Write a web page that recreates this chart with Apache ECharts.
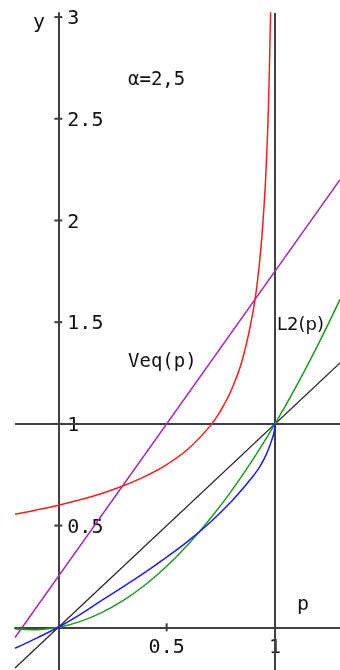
<!DOCTYPE html>
<html><head><meta charset="utf-8">
<script src="https://cdn.jsdelivr.net/npm/echarts@6/dist/echarts.min.js"></script>
<style>html,body{margin:0;padding:0;background:#fff}#c{width:340px;height:670px}</style>
</head><body><div id="c"></div>
<script>
// Axis ranges and tick values
const xRange = [-0.2, 1.3];
const yRange = [-0.21, 3.02];
const xTicks = [0.5, 1];
const xTickLabels = ['0.5', '1'];
const yTicks = [0.5, 1, 1.5, 2, 2.5, 3];
const yTickLabels = ['0.5', '1', '1.5', '2', '2.5', '3'];

// Red curve (rises to a vertical asymptote just before p = 1)
const pRed = [-0.2, -0.1, 0, 0.1, 0.2, 0.3, 0.4, 0.5, 0.6, 0.7, 0.75, 0.8, 0.85, 0.9, 0.93, 0.95, 0.96, 0.97, 0.98];
const yRed = [0.556, 0.577, 0.6, 0.627, 0.658, 0.696, 0.742, 0.8, 0.878, 0.989, 1.067, 1.17, 1.318, 1.56, 1.809, 2.08, 2.28, 2.57, 3.04];

// Veq(p), straight line
const pVeq = [-0.2, 1.3];
const yVeq = [-0.05, 2.2];

// L2(p), green
const pL2 = [-0.2, -0.1, 0, 0.1, 0.2, 0.3, 0.4, 0.5, 0.6, 0.7, 0.8, 0.9, 1.0, 1.1, 1.2, 1.3];
const yL2 = [-0.008, -0.012, 0, 0.028, 0.072, 0.132, 0.208, 0.3, 0.408, 0.532, 0.672, 0.828, 1.0, 1.188, 1.392, 1.612];

// Blue curve, ends at (1, 1)
const pBlue = [-0.2, -0.1, 0, 0.1, 0.2, 0.3, 0.4, 0.5, 0.6, 0.7, 0.8, 0.85, 0.9, 0.93, 0.96, 0.98, 0.995, 1.0];
const yBlue = [-0.103, -0.053, 0, 0.062, 0.132, 0.2, 0.27, 0.345, 0.425, 0.515, 0.62, 0.68, 0.745, 0.79, 0.85, 0.905, 0.955, 1.0];

// Diagonal y = p and the reference lines y = 1, p = 1
const pDiag = [-0.2, 1.3];
const yDiag = [-0.2, 1.3];
const hLine = [[-0.2, 1], [1.3, 1]];
const vLine = [[1, -0.21], [1, 3.02]];

const zip = (a, b) => a.map((v, i) => [v, b[i]]);
const TXT = '#15110e';
const MONO = '"DejaVu Sans Mono", monospace';
const AX = '#404040';

const chart = echarts.init(document.getElementById('c'), null, {renderer: 'canvas'});

function curve(data, color, width, smooth) {
  return {
    type: 'line', data, symbol: 'none', smooth: smooth ? 0.4 : false,
    clip: true, silent: true,
    lineStyle: {color, width}
  };
}

chart.setOption({
  animation: false,
  grid: {left: 15, top: 13, width: 327, height: 657, containLabel: false},
  xAxis: {
    type: 'value', min: xRange[0], max: xRange[1],
    axisLine: {show: true, onZero: true, lineStyle: {color: AX, width: 2}},
    axisTick: {show: false}, axisLabel: {show: false}, splitLine: {show: false}
  },
  yAxis: {
    type: 'value', min: yRange[0], max: yRange[1],
    axisLine: {show: true, onZero: true, lineStyle: {color: AX, width: 2}},
    axisTick: {show: false}, axisLabel: {show: false}, splitLine: {show: false}
  },
  series: [
    curve(hLine, AX, 2, false),
    curve(vLine, AX, 2, false),
    curve(zip(pDiag, yDiag), '#222', 1.2, false),
    curve(zip(pVeq, yVeq), '#a030b0', 1.5, false),
    curve(zip(pL2, yL2), '#1f9a1f', 1.5, true),
    curve(zip(pBlue, yBlue), '#1c1cff', 1.5, true),
    curve(zip(pRed, yRed), '#ff1c1c', 1.5, true),
    {
      // tick crosses and labels on the y axis
      type: 'custom', silent: true, data: yTicks.map((v, i) => [v, i]),
      renderItem: (params, api) => {
        const pt = api.coord([0, api.value(0)]);
        const lbl = yTickLabels[api.value(1)];
        return {type: 'group', children: [
          {type: 'line', shape: {x1: pt[0] - 4, y1: pt[1], x2: pt[0] + 4, y2: pt[1]}, style: {stroke: AX, lineWidth: 2}},
          {type: 'text', style: {text: lbl, x: pt[0] + 9, y: pt[1] + 2, font: '20px ' + MONO, fill: TXT, align: 'left', verticalAlign: 'middle'}}
        ]};
      }
    },
    {
      // tick marks and labels on the p axis
      type: 'custom', silent: true, data: xTicks.map((v, i) => [v, i]),
      renderItem: (params, api) => {
        const pt = api.coord([api.value(0), 0]);
        const lbl = xTickLabels[api.value(1)];
        return {type: 'group', children: [
          {type: 'line', shape: {x1: pt[0], y1: pt[1] - 4, x2: pt[0], y2: pt[1] + 4}, style: {stroke: AX, lineWidth: 2}},
          {type: 'text', style: {text: lbl, x: pt[0], y: pt[1] + 21, font: '20px ' + MONO, fill: TXT, align: 'center', verticalAlign: 'middle'}}
        ]};
      }
    }
  ],
  graphic: [
    {type: 'text', left: 33, top: 13, style: {text: 'y', font: '20px ' + MONO, fill: TXT}},
    {type: 'text', left: 297, top: 595, style: {text: 'p', font: '20px ' + MONO, fill: TXT}},
    {type: 'text', left: 128, top: 71, style: {text: 'α=2,5', font: '19px ' + MONO, fill: TXT}},
    {type: 'text', left: 128, top: 353, style: {text: 'Veq(p)', font: '19px ' + MONO, fill: TXT}},
    {type: 'text', left: 277, top: 316, style: {text: 'L2(p)', font: '18px "DejaVu Sans", sans-serif', fill: TXT}}
  ]
});
</script></body></html>
